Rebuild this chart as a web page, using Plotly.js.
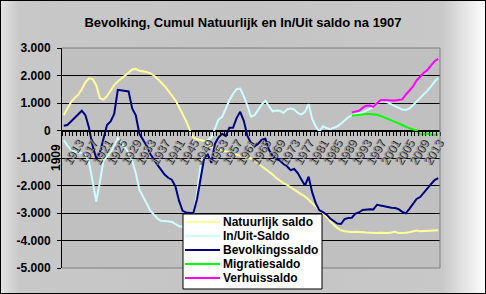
<!DOCTYPE html>
<html><head><meta charset="utf-8">
<script src="https://cdn.plot.ly/plotly-3.0.1.min.js"></script>
<style>
html,body{margin:0;padding:0;background:#fff;}
#wrap{position:relative;width:486px;height:294px;overflow:hidden;
 background:linear-gradient(90deg,#e4e4e4 0%,#c8c8c8 4%,#c4c4c4 50%,#c8c8c8 91%,#ffffff 100%);}
#wrap:after{content:'';position:absolute;left:0;top:0;right:0;bottom:0;border:1px solid #000;pointer-events:none;box-sizing:border-box;}
#chart{width:486px;height:294px;}
</style></head>
<body><div id="wrap"><div id="chart"></div></div>
<script>
// Categories (years)
const years = [1909,1910,1911,1912,1913,1914,1915,1916,1917,1918,
1919,1920,1921,1922,1923,1924,1925,1926,1927,1928,
1929,1930,1931,1932,1933,1934,1935,1936,1937,1938,
1939,1940,1941,1942,1943,1944,1945,1946,1947,1948,
1949,1950,1951,1952,1953,1954,1955,1956,1957,1958,
1959,1960,1961,1962,1963,1964,1965,1966,1967,1968,
1969,1970,1971,1972,1973,1974,1975,1976,1977,1978,
1979,1980,1981,1982,1983,1984,1985,1986,1987,1988,
1989,1990,1991,1992,1993,1994,1995,1996,1997,1998,
1999,2000,2001,2002,2003,2004,2005,2006,2007,2008,
2009,2010,2011,2012,2013];

const natuurlijkSaldo = [560,800,1030,1180,1300,1500,1750,1900,1870,1650,
1180,1120,1250,1450,1650,1780,1880,1970,2100,2220,
2240,2170,2150,2130,2080,2000,1880,1760,1620,1450,
1280,1100,860,620,330,20,-250,-320,-350,-380,
-480,-600,-640,-680,-720,-760,-800,-860,-900,-930,
-960,-990,-1020,-1100,-1200,-1300,-1400,-1480,-1600,-1730,
-1830,-1910,-1980,-2070,-2170,-2250,-2320,-2400,-2520,-2630,
-2740,-2880,-3000,-3150,-3300,-3430,-3550,-3630,-3660,-3680,
-3690,-3680,-3700,-3700,-3710,-3720,-3730,-3730,-3720,-3730,
-3730,-3710,-3680,-3730,-3730,-3720,-3700,-3680,-3640,-3660,
-3650,-3650,-3640,-3630,-3630];

const inUitSaldo = [-350,-550,-700,-780,-810,-830,-880,-1150,-1850,-2580,
-1900,-1100,-950,-800,-550,-280,-450,-640,-800,-1100,
-1550,-2150,-2380,-2650,-2920,-3080,-3200,-3280,-3300,-3300,
-3320,-3400,-3480,-3500,-3500,-3450,-3100,-2300,-1300,-700,
-350,-250,50,400,500,800,1100,1330,1500,1520,
1250,900,500,560,750,950,1080,880,700,730,
720,640,760,810,760,640,580,680,960,420,
150,-40,150,90,50,100,150,250,380,480,
550,600,630,660,720,790,850,1020,1060,1060,
1020,950,880,800,760,750,800,920,1050,1200,
1300,1450,1600,1780,1910];

const bevolkingsSaldo = [175,200,330,460,600,720,560,100,-560,-1000,
-820,-330,200,330,600,1480,1460,1430,1420,800,
550,-120,-330,-550,-850,-1060,-1250,-1420,-1600,-1720,
-1790,-2030,-2550,-2920,-2980,-3000,-3000,-2500,-1750,-1000,
-870,-1180,-480,-250,-120,-200,100,100,450,680,
350,-200,-450,-580,-480,-330,-300,-700,-920,-1040,
-1090,-1220,-1300,-1440,-1400,-1550,-1780,-2000,-1680,-2250,
-2650,-2900,-2970,-3060,-3200,-3300,-3380,-3400,-3220,-3180,
-3170,-3020,-2980,-2890,-2870,-2860,-2870,-2700,-2730,-2760,
-2790,-2810,-2820,-2860,-2960,-3010,-2850,-2650,-2490,-2420,
-2250,-2100,-1950,-1800,-1730];

// From 1989 onward
const lateYears = [1989,1990,1991,1992,1993,1994,1995,1996,1997,1998,
1999,2000,2001,2002,2003,2004,2005,2006,2007,2008,
2009,2010,2011,2012,2013];
const migratieSaldo = [540,560,580,590,600,600,590,570,530,480,
420,360,320,260,200,130,80,40,0,-140,
-130,-120,-150,-150,-150];
const verhuisSaldo = [660,680,720,820,900,910,860,1000,1100,1110,
1090,1090,1090,1100,1130,1300,1450,1600,1820,1980,
2100,2200,2350,2520,2610];

const seriesNames = ['Natuurlijk saldo','In/Uit-Saldo','Bevolkingssaldo','Migratiesaldo','Verhuissaldo'];
const seriesColors = ['#ffff99','#ccffff','#000080','#00ff00','#ff00ff'];

const firstYearLabel = '1909';
const xTickLabels = ['1913','1917','1921','1925','1929','1933','1937','1941','1945','1949','1953','1957','1961','1965','1969','1973','1977','1981','1985','1989','1993','1997','2001','2005','2009','2013'];
const yTickValues = [-5000,-4000,-3000,-2000,-1000,0,1000,2000,3000];
const yTickLabels = ['-5.000','-4.000','-3.000','-2.000','-1.000','0','1.000','2.000','3.000'];

const seriesData = [
  [years, natuurlijkSaldo],
  [years, inUitSaldo],
  [years, bevolkingsSaldo],
  [lateYears, migratieSaldo],
  [lateYears, verhuisSaldo]
];

const traces = seriesData.map((d,i)=>({
  type:'scatter', mode:'lines', x:d[0], y:d[1], name:seriesNames[i],
  line:{color:seriesColors[i], width:2}, showlegend:false, hoverinfo:'skip'
}));

// layout geometry (pixels)
const W=486,H=294, L=62, R=440, T=48, B=268;
const px2x = p => (p-L)/(R-L);
const py2y = p => (B-p)/(B-T);
const xRange = [years[0]-0.5, years[years.length-1]+0.5];

const shapes = [
  {type:'line',xref:'paper',yref:'paper',x0:0,x1:1,y0:1,y1:1,line:{color:'#808080',width:1},layer:'above'},
  {type:'line',xref:'paper',yref:'paper',x0:1,x1:1,y0:0,y1:1,line:{color:'#808080',width:1},layer:'above'},
  {type:'line',xref:'paper',yref:'paper',x0:0,x1:1,y0:0,y1:0,line:{color:'#808080',width:1},layer:'above'},
  {type:'rect',xref:'paper',yref:'paper',x0:px2x(183),x1:px2x(322),y0:py2y(289),y1:py2y(214),
    fillcolor:'#ffffff',line:{color:'#000',width:1},layer:'above'}
];
const annotations = [];
const rowY = [222,236,250,264,278];
seriesNames.forEach((n,i)=>{
  shapes.push({type:'line',xref:'paper',yref:'paper',x0:px2x(185),x1:px2x(220),y0:py2y(rowY[i]),y1:py2y(rowY[i]),
    line:{color:seriesColors[i],width:2},layer:'above'});
  annotations.push({xref:'paper',yref:'paper',x:px2x(221),y:py2y(rowY[i]),xanchor:'left',yanchor:'middle',
    text:n,showarrow:false,font:{family:'Arial, Liberation Sans',size:12,color:'#000',weight:'bold'}});
});
// first category label, drawn vertically next to the value axis
annotations.push({xref:'paper',yref:'paper',x:px2x(56),y:py2y(158),xanchor:'center',yanchor:'middle',
  text:firstYearLabel,textangle:-90,showarrow:false,borderpad:0,
  font:{family:'Arial, Liberation Sans',size:12,color:'#000',weight:'bold'}});

const layout = {
  width:W, height:H,
  margin:{l:L, r:W-R, t:T, b:H-B, pad:0},
  paper_bgcolor:'rgba(0,0,0,0)', plot_bgcolor:'#c0c0c0',
  title:{text:'Bevolking, Cumul Natuurlijk en In/Uit saldo na 1907', x:0.5, xref:'container', xanchor:'center',
    y:1-22/H, yref:'container', yanchor:'middle',
    font:{family:'Arial, Liberation Sans', size:13, color:'#000', weight:'bold'}},
  showlegend:false,
  xaxis:{type:'linear', range:xRange, anchor:'free', position:0.625,
    showline:true, linecolor:'#000', linewidth:1, showgrid:false, zeroline:false,
    tickmode:'array', tickvals:xTickLabels.map(Number), ticktext:xTickLabels, ticks:'', tickangle:-60,
    tickfont:{family:'Arial, Liberation Sans', size:12, color:'#8c8c8c', shadow:'1px 1px 0px #222'},
    minor:{tickmode:'linear', tick0:xRange[0], dtick:1, ticks:'outside', ticklen:4, tickcolor:'#000', tickwidth:1, showgrid:false}},
  yaxis:{range:[-5000,3000], tickmode:'array', tickvals:yTickValues, ticktext:yTickLabels,
    ticks:'outside', ticklen:4, tickcolor:'#000', showline:true, linecolor:'#000', linewidth:1,
    showgrid:true, gridcolor:'#000', gridwidth:1, zeroline:false, ticklabelstandoff:4,
    tickfont:{family:'Arial, Liberation Sans', size:12, color:'#000', weight:'bold'}},
  shapes:shapes, annotations:annotations
};
Plotly.newPlot('chart', traces, layout, {staticPlot:true, displayModeBar:false});
</script></body></html>
